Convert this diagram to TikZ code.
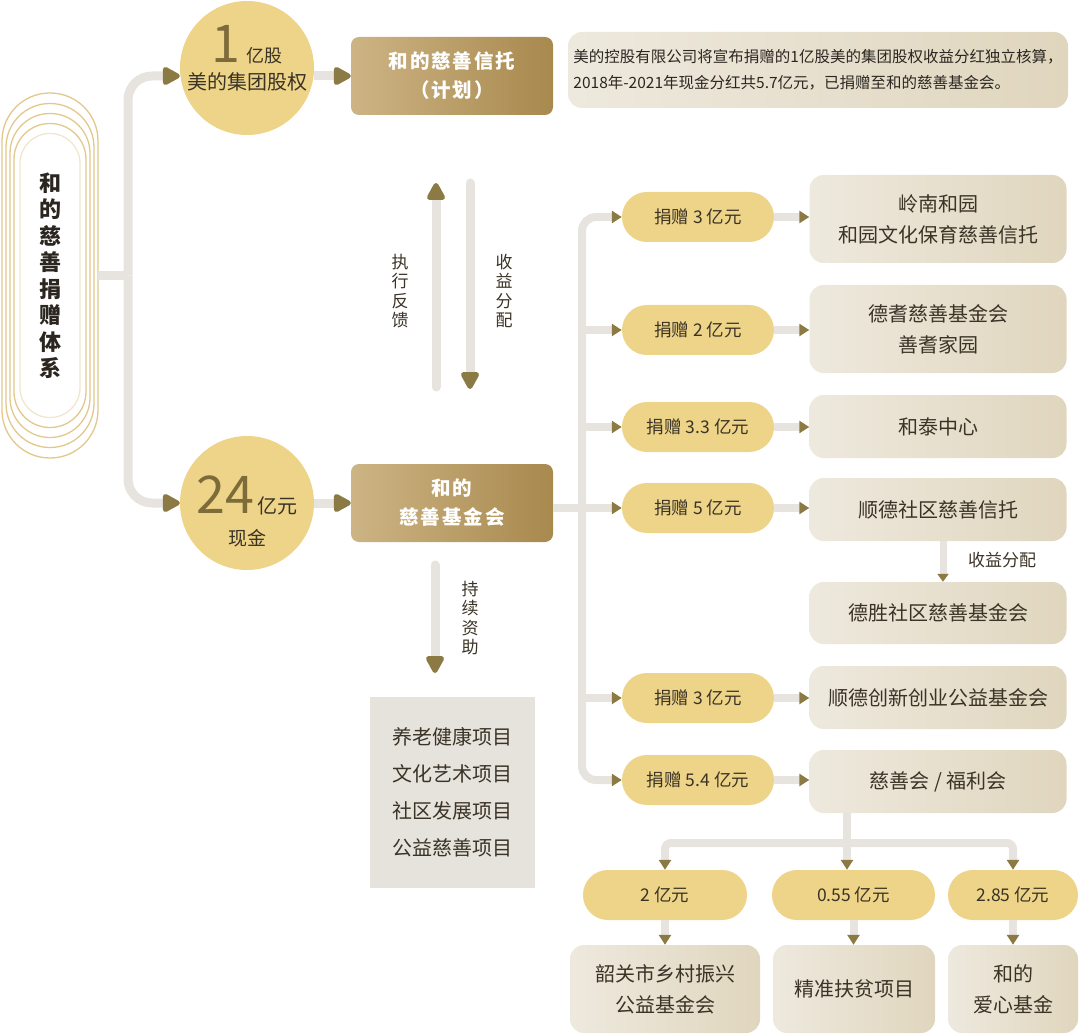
\documentclass[tikz,border=0pt]{standalone}
\usepackage{fontspec}
\setmainfont{Noto Sans CJK SC}
\newfontfamily\goldfont[LetterSpace=10]{Noto Sans CJK SC}
\usepackage{tikz}
\usetikzlibrary{arrows.meta,math}
\definecolor{HeGrey}{RGB}{231,228,223}
\definecolor{HeArrow}{RGB}{140,122,68}
\definecolor{HeYellow}{RGB}{238,212,136}
\definecolor{HeGoldL}{RGB}{205,180,132}
\definecolor{HeGoldR}{RGB}{168,137,78}
\definecolor{HeSandL}{RGB}{238,233,222}
\definecolor{HeSandR}{RGB}{224,214,190}
\definecolor{HeStone}{RGB}{230,227,221}
\definecolor{HeRing}{RGB}{226,200,140}
\definecolor{HeRingLight}{RGB}{240,230,205}
\definecolor{HeInk}{RGB}{43,38,32}
\definecolor{HeText}{RGB}{58,51,38}
\definecolor{HeDigit}{RGB}{125,107,58}
\tikzset{%
  main line/.style={line width=9pt, color=HeGrey},
  side line/.style={line width=8pt, color=HeGrey},
  big tip/.style={-{Triangle[length=20pt,width=20pt,round,color=HeArrow]}},
  small tip/.style={-{Triangle[length=10pt,width=12pt,color=HeArrow]}}
}
\newcommand*{\Fs}[2]{\fontsize{#1}{#2}\selectfont}

\begin{document}
\begin{tikzpicture}[x=1pt,y=-1pt,
    title/.style={minimum width=96pt, minimum height=365pt, align=center,
      text=HeInk, font=\bfseries\Fs{22}{26.5}},
    coin/.style={circle, fill=HeYellow, minimum size=134pt, inner sep=0pt},
    coin text/.style={align=center, text=HeText, inner sep=0pt},
    gold box/.style={rounded corners=8pt, left color=HeGoldL, right color=HeGoldR,
      minimum width=202pt, minimum height=78pt, align=center, text=white,
      font=\goldfont\bfseries\Fs{19.5}{29}},
    sand box/.style={rounded corners=14pt, left color=HeSandL, right color=HeSandR,
      minimum width=257pt, align=center, text=HeText, font=\Fs{20}{31}},
    gift/.style={rounded corners=24.9pt, fill=HeYellow, minimum height=50pt,
      text=HeText, font=\Fs{17.5}{20}},
    stone/.style={fill=HeStone, minimum width=165pt, minimum height=191pt,
      align=center, text=HeText, font=\Fs{20}{37}},
    side label/.style={align=center, text=HeText, font=\Fs{17}{19.5}}
  ]
  \tikzmath{
    \lx=128; % left trunk
    \tx=582; % right trunk
    \gx=698; % gift column
    \bx=938; % target column
  }
  \useasboundingbox (0,0) rectangle (1080,1035);
  % title rings
  \foreach \w/\h/\col in {48/182.5/HeRing, 44/172/HeRing, 40/162/HeRing,
      36/152/HeRing, 30/142/HeRingLight} {
    \draw[\col, line width=1.3pt, rounded corners={(\w-0.2)*1pt}]
      (50-\w,275.5-\h) rectangle (50+\w,275.5+\h);
  }
  \node[title] (sys) at (50,275.5) {和\\的\\慈\\善\\捐\\赠\\体\\系};

  % two sources
  \node[coin] (c1) at (247,68) {};
  \node[coin text, font=\Fs{20}{27}] (c1 text) at (247,58.5)
    {{\Fs{52}{52}\color{HeDigit}1}\,\,{\Fs{18}{20}亿股}\\美的集团股权};
  \node[gold box] (b1) at (452,76) {和的慈善信托\\（计划）};
  \node[rounded corners=14pt, left color=HeSandL, right color=HeSandR,
    minimum width=500pt, minimum height=76pt, align=left, text=HeInk,
    font=\Fs{15.5}{26}] (memo) at (818,70)
    {美的控股有限公司将宣布捐赠的1亿股美的集团股权收益分红独立核算，\\2018年-2021年现金分红共5.7亿元，已捐赠至和的慈善基金会。};
  \node[coin] (c2) at (247,503) {};
  \node[coin text, font=\Fs{19}{32}] (c2 text) at (247,511)
    {{\Fs{52}{52}\color{HeDigit}24}\,{\Fs{20}{20}亿元}\\现金};
  \node[gold box] (b2) at (452,503) {和的\\慈善基金会};

  \coordinate (lsplit) at (\lx,275.5);
  \draw[main line] (sys.east) -- (lsplit);
  \draw[main line, big tip, rounded corners=24pt] (lsplit) |- (c1.west |- b1.west);
  \draw[main line, big tip, rounded corners=24pt] (lsplit) |- (c2.west);
  \draw[main line, big tip] (c1.east |- b1.west) -- (b1.west);
  \draw[main line, big tip] (c2.east) -- (b2.west);

  % feedback and income
  \coordinate (fb low) at (436,387);
  \coordinate (fb high) at (436,183);
  \coordinate (in high) at (470,183);
  \coordinate (in low) at (470,389);
  \draw[main line, big tip, line cap=round] (fb low) -- (fb high);
  \draw[main line, big tip, line cap=round] (in high) -- (in low);
  \node[side label] (fb label) at (400,291) {执\\行\\反\\馈};
  \node[side label] (in label) at (504,291) {收\\益\\分\\配};

  % projects
  \node[stone] (prog) at (452.5,792.5) {养老健康项目\\文化艺术项目\\社区发展项目\\公益慈善项目};
  \coordinate (aid high) at (435,565);
  \coordinate (aid low) at (435,673);
  \draw[main line, big tip, line cap=round] (aid high) -- (aid low);
  \node[side label] (aid label) at (470,618) {持\\续\\资\\助};

  % donations
  \foreach \i/\y/\amt/\w in {1/217/3/152, 2/330/2/152, 3/427/3.3/152,
      4/508/5/152, 5/698/3/152, 6/780/5.4/152} {
    \node[gift, minimum width=\w pt] (g\i) at (\gx,\y) {捐赠 \amt\ 亿元};
  }
  \node[sand box, minimum height=88pt] (t1) at (\bx,219) {岭南和园\\和园文化保育慈善信托};
  \node[sand box, minimum height=88pt] (t2) at (\bx,329) {德耆慈善基金会\\善耆家园};
  \node[sand box, minimum height=63pt] (t3) at (\bx,426.5) {和泰中心};
  \node[sand box, minimum height=63pt] (t4) at (\bx,509.5) {顺德社区慈善信托};
  \node[sand box, minimum height=62pt] (d4) at (\bx,613) {德胜社区慈善基金会};
  \node[sand box, minimum height=63pt] (t5) at (\bx,697.5) {顺德创新创业公益基金会};
  \node[sand box, minimum height=63pt] (t6) at (\bx,781.5) {慈善会 / 福利会};

  \coordinate (rsplit) at (\tx,508);
  \draw[side line] (b2.east |- rsplit) -- (rsplit);
  \draw[side line, small tip, rounded corners=14pt] (rsplit) |- (g1.west);
  \draw[side line, small tip, rounded corners=14pt] (rsplit) |- (g6.west);
  \foreach \i in {2,3,4,5} {
    \draw[side line, small tip] (g\i.west -| rsplit) -- (g\i.west);
  }
  \foreach \i in {1,...,6} {
    \draw[side line, small tip] (g\i.east) -- (g\i.east -| t\i.west);
  }
  \draw[line width=7pt, HeGrey, -{Triangle[length=8pt,width=11pt,color=HeArrow]}]
    ([xshift=5pt]t4.south) -- ([xshift=5pt]d4.north);
  \node[side label] (d4 label) at (1002,560) {收益分配};

  % welfare split
  \node[gift, minimum width=164pt] (q1) at (665,895) {2 亿元};
  \node[gift, minimum width=163pt] (q2) at (853.5,895) {0.55 亿元};
  \node[gift, minimum width=130pt] (q3) at (1013,895) {2.85 亿元};
  \node[sand box, minimum width=190pt, minimum height=88pt] (r1) at (665,989) {韶关市乡村振兴\\公益基金会};
  \node[sand box, minimum width=162pt, minimum height=88pt] (r2) at (854,989) {精准扶贫项目};
  \node[sand box, minimum width=130pt, minimum height=88pt] (r3) at (1013,989) {和的\\爱心基金};
  \coordinate (bsplit) at (847,843);
  \draw[side line] (t6.south -| bsplit) -- (bsplit);
  \draw[side line, small tip, rounded corners=6pt] (bsplit) -| (q1.north);
  \draw[side line, small tip] (bsplit) -- (bsplit |- q2.north);
  \draw[side line, small tip, rounded corners=6pt] (bsplit) -| (q3.north);
  \foreach \i in {1,2,3} {
    \draw[side line, small tip] (q\i.south) -- (q\i.south |- r\i.north);
  }
\end{tikzpicture}
\end{document}
